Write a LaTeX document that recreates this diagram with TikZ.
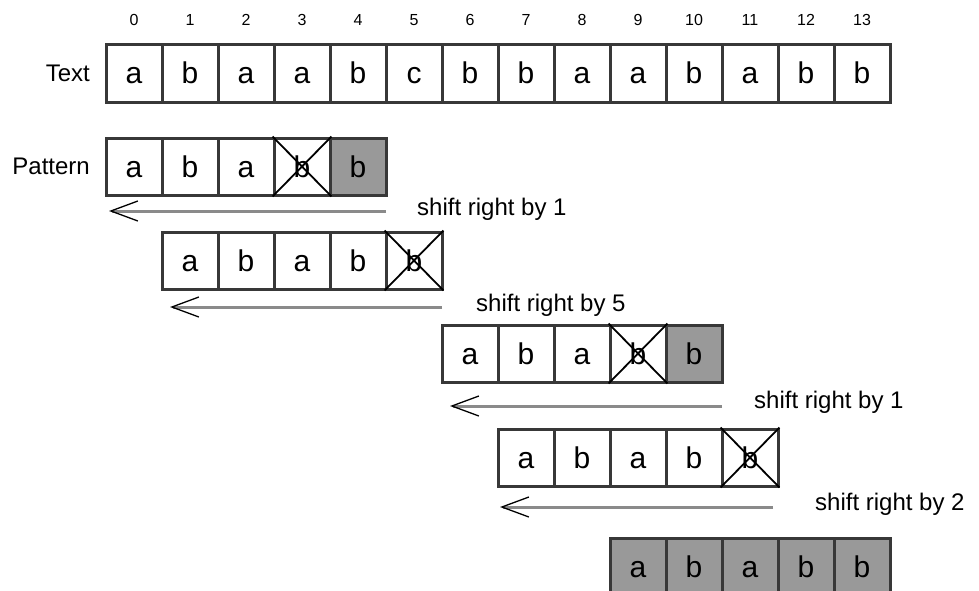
\documentclass[tikz,border=0pt]{standalone}
\usepackage{fontspec}
\setmainfont{Liberation Sans}
\definecolor{framegrey}{HTML}{383838}
\definecolor{hitgrey}{HTML}{999999}
\definecolor{shiftgrey}{HTML}{8A8A8A}
\usetikzlibrary{arrows.meta, positioning, calc}

\begin{document}
\begin{tikzpicture}[
    x=1pt, y=-1pt,
    cell/.style={draw=framegrey, line width=3pt, minimum width=56pt,
                 minimum height=57pt, inner sep=0pt, outer sep=0pt,
                 text height=21pt, text depth=0pt,
                 font=\fontsize{30}{34}\selectfont},
    hit/.style={cell, fill=hitgrey},
    idx/.style={inner sep=0pt, font=\fontsize{16}{18}\selectfont},
    lbl/.style={inner sep=0pt, font=\fontsize{24}{28}\selectfont},
    cross/.style={line width=1.8pt, black, shorten <=-2pt, shorten >=-2pt},
    shiftarr/.style={line width=3pt, shiftgrey,
                     -{Straight Barb[length=27pt, width=20pt, line width=1.3pt, color=black]}}
  ]
  \useasboundingbox (0,0) rectangle (979,590);

  % text with its indices
  \foreach \ch [count=\i from 0] in {a,b,a,a,b,c,b,b,a,a,b,a,b,b} {
    \node[cell, minimum height=58pt] (t\i) at (134+56*\i, 73) {\ch};
    \node[idx] (n\i) at (134+56*\i, 20) {\i};
  }
  \node[lbl, left=16pt of t0] (textlbl) {Text};

  % pattern, one row per alignment
  \foreach \ch/\st [count=\i from 0] in {a/cell,b/cell,a/cell,b/cell,b/hit}
    \node[\st] (pa\i) at (134+56*\i, 166.5) {\ch};
  \foreach \ch/\st [count=\i from 0] in {a/cell,b/cell,a/cell,b/cell,b/cell}
    \node[\st] (pb\i) at (190+56*\i, 260.5) {\ch};
  \foreach \ch/\st [count=\i from 0] in {a/cell,b/cell,a/cell,b/cell,b/hit}
    \node[\st] (pc\i) at (470+56*\i, 353.5) {\ch};
  \foreach \ch/\st [count=\i from 0] in {a/cell,b/cell,a/cell,b/cell,b/cell}
    \node[\st] (pd\i) at (526+56*\i, 457.5) {\ch};
  \foreach \ch/\st [count=\i from 0] in {a/hit,b/hit,a/hit,b/hit,b/hit}
    \node[\st] (pe\i) at (638+56*\i, 566.5) {\ch};
  \node[lbl, left=16pt of pa0] (patlbl) {Pattern};

  % mismatches
  \draw[cross] (pa3.north west) -- (pa3.south east);
  \draw[cross] (pa3.south west) -- (pa3.north east);
  \draw[cross] (pb4.north west) -- (pb4.south east);
  \draw[cross] (pb4.south west) -- (pb4.north east);
  \draw[cross] (pc3.north west) -- (pc3.south east);
  \draw[cross] (pc3.south west) -- (pc3.north east);
  \draw[cross] (pd4.north west) -- (pd4.south east);
  \draw[cross] (pd4.south west) -- (pd4.north east);

  % shifts
  \coordinate (ra) at ($(pa4.south east)+(0,16)$);
  \coordinate (la) at ($(pa0.south west)+(3,16)$);
  \coordinate (rb) at ($(pb4.south east)+(0,18)$);
  \coordinate (lb) at ($(pb0.south west)+(8,18)$);
  \coordinate (rc) at ($(pc4.south east)+(0,24)$);
  \coordinate (lc) at ($(pc0.south west)+(8,24)$);
  \coordinate (rd) at ($(pd4.south east)+(-5,21)$);
  \coordinate (ld) at ($(pd0.south west)+(2,21)$);

  \draw[shiftarr] (ra) -- (la);
  \draw[shiftarr] (rb) -- (lb);
  \draw[shiftarr] (rc) -- (lc);
  \draw[shiftarr] (rd) -- (ld);

  \node[lbl, right=31pt of ra, yshift=2pt] (sa) {shift right by 1};
  \node[lbl, right=34pt of rb, yshift=2pt] (sb) {shift right by 5};
  \node[lbl, right=32pt of rc, yshift=4pt] (sc) {shift right by 1};
  \node[lbl, right=42pt of rd, yshift=3pt] (sd) {shift right by 2};
\end{tikzpicture}
\end{document}
